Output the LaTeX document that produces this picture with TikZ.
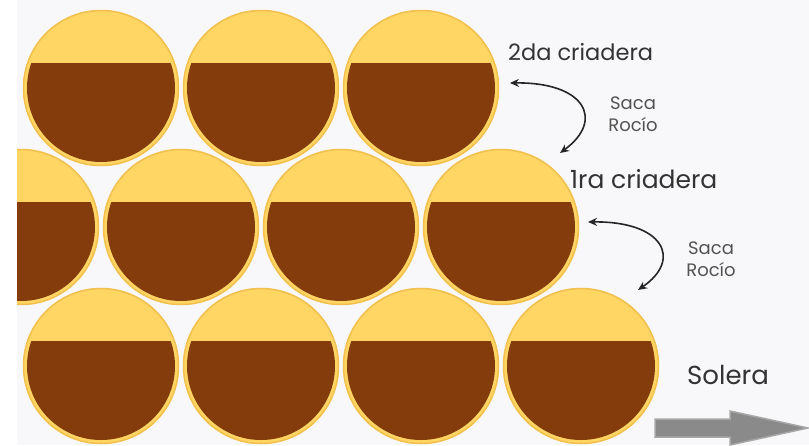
\documentclass[tikz,border=0pt]{standalone}
\usepackage{fontspec}
\setmainfont{Poppins}
\usepackage{tikz}
\usetikzlibrary{arrows.meta,positioning}
\definecolor{vino}{HTML}{843C0C}
\definecolor{madera}{HTML}{FFD563}
\definecolor{aro}{HTML}{F2C04E}
\definecolor{fondo}{HTML}{F8F8FA}
\definecolor{texto}{HTML}{333333}
\definecolor{flecha}{HTML}{8A8A8A}

\begin{document}
\begin{tikzpicture}[x=1pt,y=-1pt,
  etiqueta/.style={text=texto,font=\fontsize{#1}{24}\selectfont},
  saca/.style={text=texto!85,font=\fontsize{18}{22}\selectfont,align=center},
  trasiego/.style={{Stealth[length=9pt,width=8pt]}-{Stealth[length=9pt,width=8pt]},line width=1.6pt,black!85}]
  \useasboundingbox (0,0) rectangle (809,445);
  \fill[fondo] (17,0) rectangle (809,445);
  \begin{scope}
    \clip (17,0) rectangle (809,445);
    \foreach \x/\y in {101/88,261/88,421/88,21/227,181/227,341/227,501/227,101/366,261/366,421/366,581/366}{
      \fill[madera] (\x,\y) circle (78);
      \begin{scope}
        \clip (\x-80,\y-25) rectangle (\x+80,\y+80);
        \fill[vino] (\x,\y) circle (74);
      \end{scope}
      \draw[aro,line width=1.5pt] (\x,\y) circle (77.5);
    }
  \end{scope}

  \node[etiqueta=22.5,anchor=base west,inner sep=0pt] (cri2) at (508,60) {2da criadera};
  \node[etiqueta=25,anchor=base west,inner sep=0pt] (cri1) at (570,188) {1ra criadera};
  \node[etiqueta=26,anchor=west,inner sep=0pt] (solera) at (687,375) {Solera};
  \node[saca] (saca2) at (633,114) {Saca\\Rocío};
  \node[saca] (saca1) at (711,259) {Saca\\Rocío};

  \coordinate (s2) at (510,83);
  \coordinate (e1) at (560,153);
  \coordinate (s1) at (588,222);
  \coordinate (e0) at (638,290);
  \draw[trasiego] (s2) .. controls (585,82) and (605,120) .. (e1);
  \draw[trasiego] (s1) .. controls (663,221) and (683,259) .. (e0);

  \fill[flecha,draw=flecha!75,line width=1.5pt]
    (655,419) -- (730,419) -- (730,411) -- (808,428) -- (730,445) -- (730,437) -- (655,437) -- cycle;
\end{tikzpicture}
\end{document}
